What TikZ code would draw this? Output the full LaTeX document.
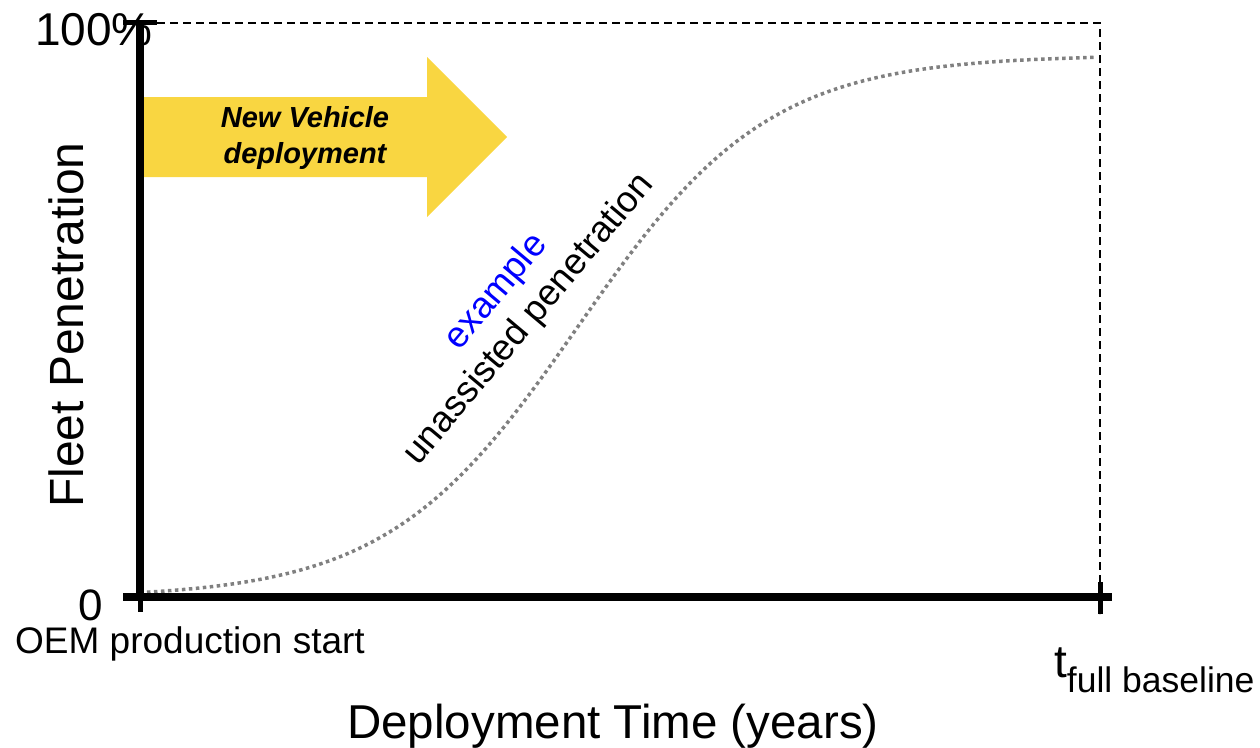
\documentclass[tikz,border=0pt]{standalone}
\usepackage{fontspec}
\setmainfont{Liberation Sans}
\usetikzlibrary{positioning}
\definecolor{arrowyellow}{RGB}{249,214,65}
\definecolor{curvegray}{RGB}{128,128,128}
\definecolor{noteblue}{RGB}{0,0,255}
\newcommand{\fsize}[2]{\fontsize{#1}{#2}\selectfont}
\begin{document}
\begin{tikzpicture}[x=1pt,y=-1pt,
		axisline/.style={line width=7.5pt},
		tickline/.style={line width=5pt},
		guideline/.style={line width=1.5pt, dash pattern=on 8pt off 5pt},
		curveline/.style={curvegray, line width=3.5pt, dash pattern=on 3.5pt off 3.5pt},
		label/.style={inner sep=0pt, text=black}
	]
	\useasboundingbox (0,0) rectangle (1260,747);
	% logistic curve parameters
	\def\growth {0.0105};
	\def\midpoint {578};
	% plot corners
	\coordinate (origin) at (140,597);
	\coordinate (ytop) at (140,20);
	\coordinate (xend) at (1112,597);
	\coordinate (tfull) at (1100,597);
	\coordinate (tfulltop) at (1100,23);
	\coordinate (ytopright) at (157,23);
	% new vehicle arrow
	\fill[arrowyellow] (143,97) -- (427,97) -- (427,57) -- (507,137) -- (427,217) -- (427,177) -- (143,177) -- cycle;
	\node[label, align=center, font=\fsize{29pt}{36pt}\bfseries\itshape] (deploy) at (305,138) {New Vehicle\\deployment};
	% dashed guide to full baseline
	\draw[guideline] (ytopright) -- (tfulltop) -- ([yshift=-17pt]tfull);
	% penetration curve
	\draw[curveline] plot[domain=140:1097, samples=120] (\x, {598-543/(1+exp(-\growth*(\x-\midpoint)))});
	% axes
	\draw[axisline] (123,597) -- (xend);
	\draw[axisline] (ytop) -- (origin);
	\draw[tickline] (origin) -- ++(0,15);
	\draw[tickline] (123,22) -- (157,22);
	\draw[tickline] ([yshift=-17pt]tfull) -- ([yshift=15pt]tfull);
	% axis labels
	\node[label, anchor=base east, font=\fsize{46pt}{46pt}] (full) at (153,45) {100\%};
	\node[label, anchor=base east, font=\fsize{44pt}{44pt}] (zero) at (103,620) {0};
	\node[label, anchor=base west, font=\fsize{37pt}{37pt}] (start) at (15,653) {OEM production start};
	\node[label, anchor=base west] (tend) at (1054,677) {\fsize{46pt}{46pt}t\raisebox{-15pt}{\fsize{35.5pt}{35.5pt}full baseline}};
	\node[label, anchor=base, font=\fsize{47.5pt}{47.5pt}] (xtitle) at (613,738) {Deployment Time (years)};
	\node[label, anchor=base, rotate=90, font=\fsize{48pt}{48pt}] (ytitle) at (83,325) {Fleet Penetration};
	% curve label
	\node[label, align=center, rotate=50, font=\fsize{36.5pt}{43pt}] (curvelabel) at (513,306) {\textcolor{noteblue}{example}\\unassisted penetration};
\end{tikzpicture}
\end{document}
